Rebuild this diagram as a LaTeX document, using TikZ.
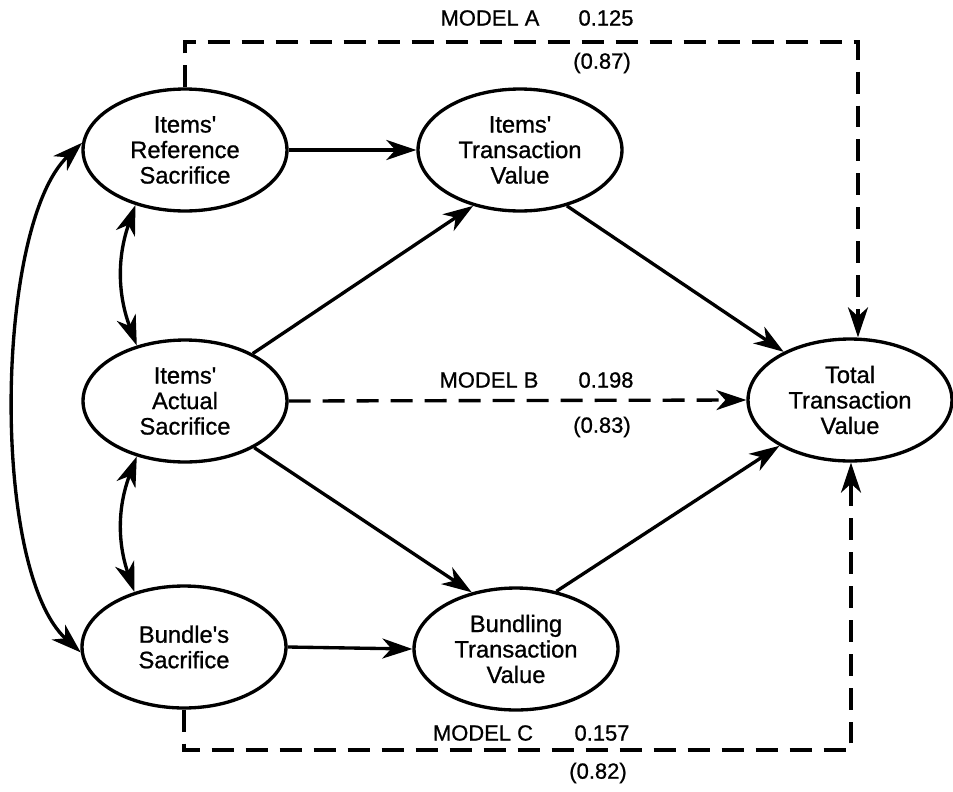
\documentclass[tikz,border=0pt]{standalone}
\usepackage{fontspec}
\setmainfont{Liberation Sans}[FakeBold=0.9]
\usetikzlibrary{arrows.meta, positioning, shapes.geometric}

\begin{document}
\begin{tikzpicture}[
  x=0.02cm, y=-0.02cm,
  font=\fontsize{13.5}{14.5}\selectfont,
  latent/.style={draw, ellipse, line width=1.9pt, minimum width=4.08cm, minimum height=2.44cm,
                 inner sep=0pt, align=center},
  arr/.style={-{Stealth[length=6mm,width=4mm,inset=1.8mm]}, line width=1.9pt},
  biarr/.style={{Stealth[length=6mm,width=4mm,inset=1.8mm]}-{Stealth[length=6mm,width=4mm,inset=1.8mm]},
                line width=1.9pt},
  modarr/.style={arr, dash pattern=on 4.4mm off 2.4mm},
  coef/.style={font=\fontsize{12.5}{14}\selectfont, inner sep=0pt},
]
\useasboundingbox (0,0) rectangle (953,791);

% --- latent variables ---
\node[latent] (irs) at (185,150) {Items\textquotesingle\\Reference\\Sacrifice};
\node[latent] (itv) at (520,150) {Items\textquotesingle\\Transaction\\Value};
\node[latent] (ias) at (185,401) {Items\textquotesingle\\Actual\\Sacrifice};
\node[latent] (bs)  at (184,647) {Bundle\textquotesingle s\\Sacrifice};
\node[latent] (btv) at (516,649) {Bundling\\Transaction\\Value};
\node[latent] (ttv) at (850,400) {Total\\Transaction\\Value};

% --- direct paths ---
\draw[arr] (irs.east) -- (itv.west);
\draw[arr] (bs.east) -- (btv.west);
\draw[arr] (ias.35) -- (itv.230);
\draw[arr] (ias.326) -- (btv.128);
\draw[arr] (itv.310) -- (ttv.144);
\draw[arr] (btv.55) -- (ttv.213);

% --- correlations among the sacrifices ---
\draw[biarr] (irs.228) to[bend right=20] (ias.131);
\draw[biarr] (ias.229) to[bend right=20] (bs.132);
\draw[biarr] (irs.176) .. controls (-5,225) and (-10,570) .. (bs.183);

% --- model A, B, C paths ---
\coordinate (aR) at (858,42);
\coordinate (cR) at (851,750);
\draw[modarr] (irs.north) |- (aR) -- (aR |- ttv.north);
\draw[modarr] (ias.east) -- (ttv.west);
\draw[modarr] (bs.south) |- (cR) -- (cR |- ttv.south);

\node[coef] (ma)  at (490,18)  {MODEL A};
\node[coef] (ma1) at (606,18)  {0.125};
\node[coef] (ma2) at (602,63)  {(0.87)};
\node[coef] (mb)  at (489,380) {MODEL B};
\node[coef] (mb1) at (606,380) {0.198};
\node[coef] (mb2) at (602,427) {(0.83)};
\node[coef] (mc)  at (483,733) {MODEL C};
\node[coef] (mc1) at (602,733) {0.157};
\node[coef] (mc2) at (598,773) {(0.82)};
\end{tikzpicture}
\end{document}
